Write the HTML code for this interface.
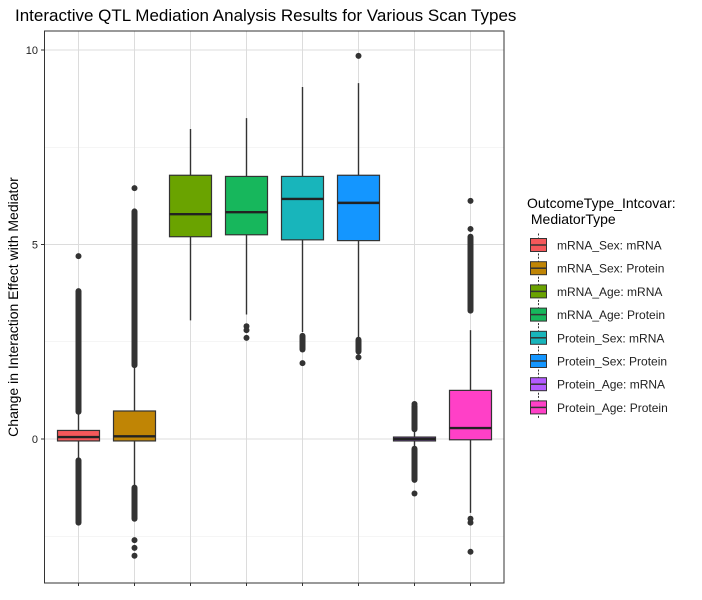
<!DOCTYPE html>
<html><head><meta charset="utf-8"><style>
body{margin:0;background:#fff;}
svg{font-family:"Liberation Sans",Arial,sans-serif;}
</style></head><body>
<svg id="chart" width="702" height="595">
<text x="15" y="21" font-size="17" fill="#000">Interactive QTL Mediation Analysis Results for Various Scan Types</text>
<text transform="translate(18,307) rotate(-90)" text-anchor="middle" font-size="14">Change in Interaction Effect with Mediator</text>
<g id="grid"></g><g id="marks"></g><g id="axis"></g><g id="legend"></g>
<rect x="44.5" y="31" width="459.5" height="552" fill="none" stroke="#333" stroke-width="1"/>
</svg>
<script>
const categories=["mRNA_Sex: mRNA","mRNA_Sex: Protein","mRNA_Age: mRNA","mRNA_Age: Protein","Protein_Sex: mRNA","Protein_Sex: Protein","Protein_Age: mRNA","Protein_Age: Protein"];
const colors=["#F4585A","#C08505","#6AA300","#17B75C","#18B5BB","#1496FF","#B35BFF","#FF40C7"];
const q1=[-0.05,-0.05,5.2,5.25,5.12,5.1,-0.05,-0.02];
const medians=[0.05,0.07,5.78,5.83,6.17,6.07,0.0,0.28];
const q3=[0.22,0.72,6.78,6.75,6.75,6.78,0.05,1.25];
const whiskLo=[-0.5,-1.2,3.05,3.2,2.75,2.6,-0.2,-1.9];
const whiskHi=[0.65,1.85,7.97,8.25,9.05,9.15,0.2,2.8];
const denseHigh=[[0.7,3.8],[1.9,5.85],null,null,null,null,[0.25,0.85],[3.3,5.2]];
const denseLow=[[-2.15,-0.55],[-2.05,-1.25],null,null,[2.3,2.65],[2.25,2.55],[-1.05,-0.25],null];
const outliers=[[4.7],[6.45,-2.6,-2.8,-3.0],[],[2.9,2.8,2.6],[1.95],[9.85,2.1],[-1.4,0.9],[6.12,5.4,-2.05,-2.15,-2.9]];
const yTicks=[0,5,10];
const yMinor=[-2.5,2.5,7.5];
const NS="http://www.w3.org/2000/svg";
const y=v=>439-v*38.9;
const x=i=>78.5+56*i;
function mk(tag,attrs,parent){const e=document.createElementNS(NS,tag);for(const k in attrs)e.setAttribute(k,attrs[k]);parent.appendChild(e);return e;}
const grid=document.getElementById('grid'),marks=document.getElementById('marks'),axis=document.getElementById('axis'),legend=document.getElementById('legend');
yMinor.forEach(v=>{const l=mk('line',{x1:44.5,x2:504,y1:y(v),y2:y(v),stroke:'#ebebeb','stroke-width':0.6},grid);

});
yTicks.forEach(v=>{const l=mk('line',{x1:44.5,x2:504,y1:y(v),y2:y(v),stroke:'#dcdcdc','stroke-width':1},grid);


const t=mk('text',{x:38,y:y(v)+4,'text-anchor':'end','font-size':11,fill:'#222'},axis);t.textContent=v;


const tk=mk('line',{x1:41,x2:44.5,y1:y(v),y2:y(v),stroke:'#333'},axis);

});
categories.forEach((c,i)=>{
const g=mk('line',{x1:x(i),x2:x(i),y1:31,y2:583,stroke:'#dcdcdc','stroke-width':1},grid);


const tk=mk('line',{x1:x(i),x2:x(i),y1:583,y2:586,stroke:'#333'},axis);


const b=mk('g',{},marks);


mk('line',{x1:x(i),x2:x(i),y1:y(whiskHi[i]),y2:y(whiskLo[i]),stroke:'#333','stroke-width':1.4},b);
[denseHigh[i],denseLow[i]].forEach(r=>{if(r){const d=mk('line',{x1:x(i),x2:x(i),y1:y(r[1]),y2:y(r[0]),stroke:'#333','stroke-width':6,'stroke-linecap':'round'},b);

}});
outliers[i].forEach(v=>{const p=mk('circle',{cx:x(i),cy:y(v),r:3,fill:'#333'},b);

});
const r=mk('rect',{x:x(i)-21,y:y(q3[i]),width:42,height:Math.max(1,y(q1[i])-y(q3[i])),fill:colors[i],stroke:'#333','stroke-width':1.2},b);


const m=mk('line',{x1:x(i)-21,x2:x(i)+21,y1:y(medians[i]),y2:y(medians[i]),stroke:'#222','stroke-width':2.4},b);


// legend
const ly=245+23.2*i;
const le=mk('g',{},legend);


mk('line',{x1:538.5,x2:538.5,y1:ly-11.5,y2:ly+11.5,stroke:'#333','stroke-width':1,'stroke-dasharray':'2,2'},le);
mk('rect',{x:530.5,y:ly-6.5,width:16,height:13,fill:colors[i],stroke:'#333','stroke-width':1},le);
mk('line',{x1:530.5,x2:546.5,y1:ly,y2:ly,stroke:'#333','stroke-width':1.5},le);
const lt=mk('text',{x:557,y:ly+4.5,'font-size':12,fill:'#222'},le);lt.textContent=c;
});
const t1=mk('text',{x:527,y:208,'font-size':14,fill:'#000'},legend);t1.textContent="OutcomeType_Intcovar:";


const t2=mk('text',{x:527,y:224,'font-size':14,fill:'#000'},legend);t2.textContent="\u00a0MediatorType";


</script>
</body></html>
